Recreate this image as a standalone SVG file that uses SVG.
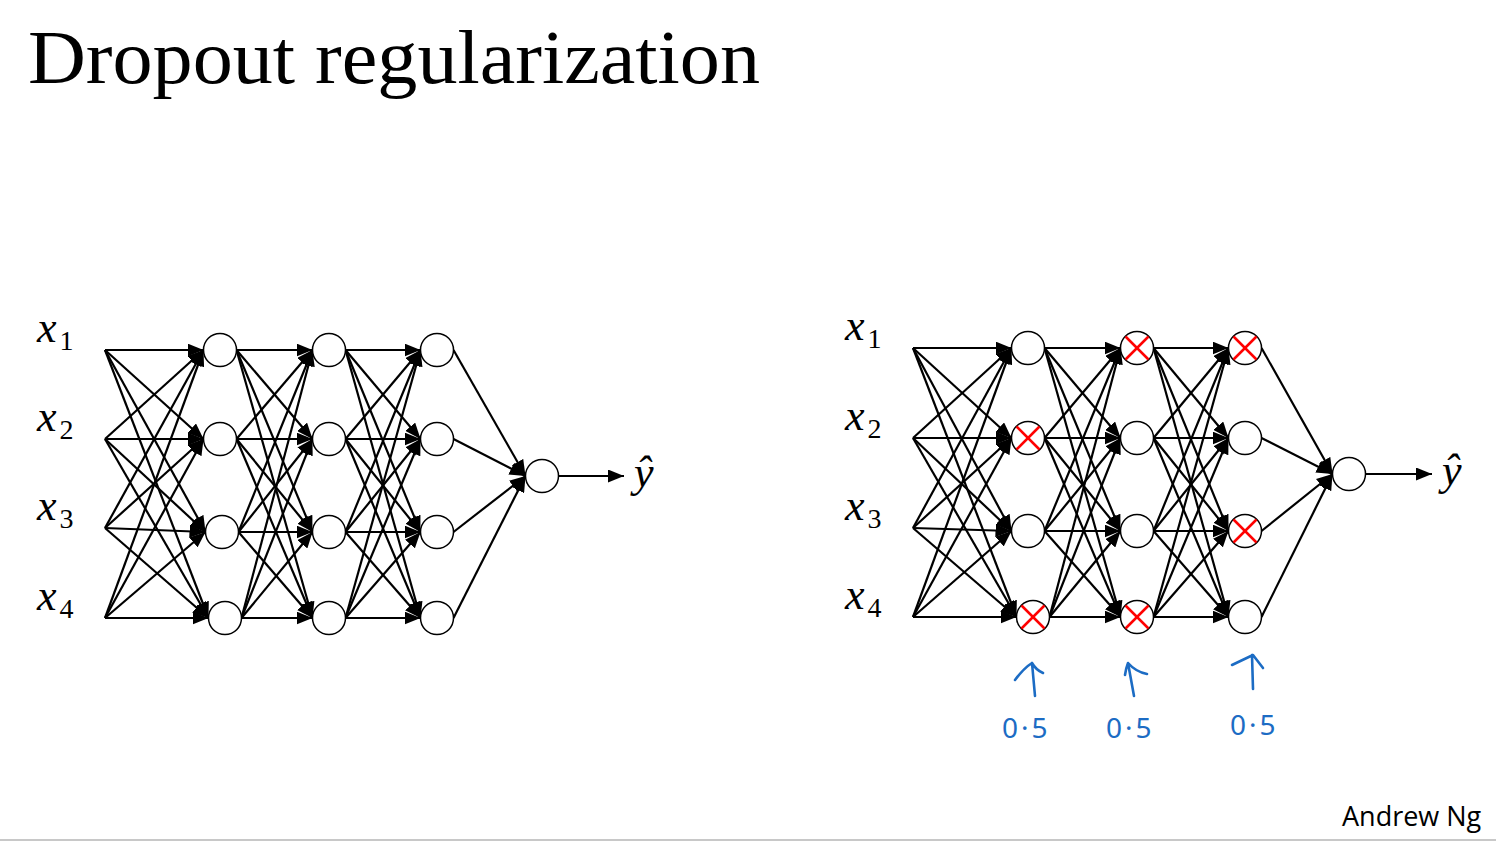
<svg xmlns="http://www.w3.org/2000/svg" width="1496" height="841" viewBox="0 0 1496 841">
<defs>
<marker id="ah" markerUnits="userSpaceOnUse" markerWidth="16" markerHeight="13" viewBox="0 0 16 13" refX="16" refY="6.5" orient="auto">
<path d="M0,0 L16,6.5 L0,13 z" fill="#000"/>
</marker>
<style>
.e{stroke:#000;stroke-width:2.2;fill:none;marker-end:url(#ah)}
.n{fill:#fff;stroke:#000;stroke-width:1.5}
.x{stroke:#f00;stroke-width:2.5}
.lab{font-family:"Liberation Serif",serif;font-style:italic;font-size:44px;fill:#000}
.sub{font-style:normal;font-size:28px}
.hw{font-family:"Noto Sans","DejaVu Sans",sans-serif;font-size:28px;letter-spacing:3px;fill:#1c6cc4}
.hwl{stroke:#1c6cc4;stroke-width:2.6;fill:none;stroke-linecap:round;stroke-linejoin:round}
</style>
</defs>
<rect width="1496" height="841" fill="#fff"/>
<text x="28" y="83" font-family="Liberation Serif,serif" font-size="76" textLength="732" lengthAdjust="spacingAndGlyphs" fill="#000">Dropout regularization</text>

<g id="connectors-left">
<line class="e" x1="105" y1="350" x2="203.5" y2="350"/>
<line class="e" x1="105" y1="350" x2="203.5" y2="439"/>
<line class="e" x1="105" y1="350" x2="205.5" y2="532"/>
<line class="e" x1="105" y1="350" x2="208.5" y2="618"/>
<line class="e" x1="105" y1="439" x2="203.5" y2="350"/>
<line class="e" x1="105" y1="439" x2="203.5" y2="439"/>
<line class="e" x1="105" y1="439" x2="205.5" y2="532"/>
<line class="e" x1="105" y1="439" x2="208.5" y2="618"/>
<line class="e" x1="105" y1="528" x2="203.5" y2="350"/>
<line class="e" x1="105" y1="528" x2="203.5" y2="439"/>
<line class="e" x1="105" y1="528" x2="205.5" y2="532"/>
<line class="e" x1="105" y1="528" x2="208.5" y2="618"/>
<line class="e" x1="105" y1="618" x2="203.5" y2="350"/>
<line class="e" x1="105" y1="618" x2="203.5" y2="439"/>
<line class="e" x1="105" y1="618" x2="205.5" y2="532"/>
<line class="e" x1="105" y1="618" x2="208.5" y2="618"/>

<line class="e" x1="236.5" y1="350" x2="312.5" y2="350"/>
<line class="e" x1="236.5" y1="350" x2="312.5" y2="439"/>
<line class="e" x1="236.5" y1="350" x2="312.5" y2="532"/>
<line class="e" x1="236.5" y1="350" x2="312.5" y2="618"/>
<line class="e" x1="236.5" y1="439" x2="312.5" y2="350"/>
<line class="e" x1="236.5" y1="439" x2="312.5" y2="439"/>
<line class="e" x1="236.5" y1="439" x2="312.5" y2="532"/>
<line class="e" x1="236.5" y1="439" x2="312.5" y2="618"/>
<line class="e" x1="238.5" y1="532" x2="312.5" y2="350"/>
<line class="e" x1="238.5" y1="532" x2="312.5" y2="439"/>
<line class="e" x1="238.5" y1="532" x2="312.5" y2="532"/>
<line class="e" x1="238.5" y1="532" x2="312.5" y2="618"/>
<line class="e" x1="241.5" y1="618" x2="312.5" y2="350"/>
<line class="e" x1="241.5" y1="618" x2="312.5" y2="439"/>
<line class="e" x1="241.5" y1="618" x2="312.5" y2="532"/>
<line class="e" x1="241.5" y1="618" x2="312.5" y2="618"/>

<line class="e" x1="345.5" y1="350" x2="420.5" y2="350"/>
<line class="e" x1="345.5" y1="350" x2="420.5" y2="439"/>
<line class="e" x1="345.5" y1="350" x2="420.5" y2="532"/>
<line class="e" x1="345.5" y1="350" x2="420.5" y2="618"/>
<line class="e" x1="345.5" y1="439" x2="420.5" y2="350"/>
<line class="e" x1="345.5" y1="439" x2="420.5" y2="439"/>
<line class="e" x1="345.5" y1="439" x2="420.5" y2="532"/>
<line class="e" x1="345.5" y1="439" x2="420.5" y2="618"/>
<line class="e" x1="345.5" y1="532" x2="420.5" y2="350"/>
<line class="e" x1="345.5" y1="532" x2="420.5" y2="439"/>
<line class="e" x1="345.5" y1="532" x2="420.5" y2="532"/>
<line class="e" x1="345.5" y1="532" x2="420.5" y2="618"/>
<line class="e" x1="345.5" y1="618" x2="420.5" y2="350"/>
<line class="e" x1="345.5" y1="618" x2="420.5" y2="439"/>
<line class="e" x1="345.5" y1="618" x2="420.5" y2="532"/>
<line class="e" x1="345.5" y1="618" x2="420.5" y2="618"/>

<line class="e" x1="453.5" y1="350" x2="525.5" y2="476"/>
<line class="e" x1="453.5" y1="439" x2="525.5" y2="476"/>
<line class="e" x1="453.5" y1="532" x2="525.5" y2="476"/>
<line class="e" x1="453.5" y1="618" x2="525.5" y2="476"/>
<line class="e" x1="558.5" y1="476" x2="624" y2="476"/>
</g>

<g id="connectors-right">
<line class="e" x1="913" y1="348" x2="1011.5" y2="348"/>
<line class="e" x1="913" y1="348" x2="1011.5" y2="438"/>
<line class="e" x1="913" y1="348" x2="1011.5" y2="531"/>
<line class="e" x1="913" y1="348" x2="1016.5" y2="617"/>
<line class="e" x1="913" y1="438" x2="1011.5" y2="348"/>
<line class="e" x1="913" y1="438" x2="1011.5" y2="438"/>
<line class="e" x1="913" y1="438" x2="1011.5" y2="531"/>
<line class="e" x1="913" y1="438" x2="1016.5" y2="617"/>
<line class="e" x1="913" y1="528" x2="1011.5" y2="348"/>
<line class="e" x1="913" y1="528" x2="1011.5" y2="438"/>
<line class="e" x1="913" y1="528" x2="1011.5" y2="531"/>
<line class="e" x1="913" y1="528" x2="1016.5" y2="617"/>
<line class="e" x1="913" y1="617" x2="1011.5" y2="348"/>
<line class="e" x1="913" y1="617" x2="1011.5" y2="438"/>
<line class="e" x1="913" y1="617" x2="1011.5" y2="531"/>
<line class="e" x1="913" y1="617" x2="1016.5" y2="617"/>

<line class="e" x1="1044.5" y1="348" x2="1120.5" y2="348"/>
<line class="e" x1="1044.5" y1="348" x2="1120.5" y2="438"/>
<line class="e" x1="1044.5" y1="348" x2="1120.5" y2="531"/>
<line class="e" x1="1044.5" y1="348" x2="1120.5" y2="617"/>
<line class="e" x1="1044.5" y1="438" x2="1120.5" y2="348"/>
<line class="e" x1="1044.5" y1="438" x2="1120.5" y2="438"/>
<line class="e" x1="1044.5" y1="438" x2="1120.5" y2="531"/>
<line class="e" x1="1044.5" y1="438" x2="1120.5" y2="617"/>
<line class="e" x1="1044.5" y1="531" x2="1120.5" y2="348"/>
<line class="e" x1="1044.5" y1="531" x2="1120.5" y2="438"/>
<line class="e" x1="1044.5" y1="531" x2="1120.5" y2="531"/>
<line class="e" x1="1044.5" y1="531" x2="1120.5" y2="617"/>
<line class="e" x1="1049.5" y1="617" x2="1120.5" y2="348"/>
<line class="e" x1="1049.5" y1="617" x2="1120.5" y2="438"/>
<line class="e" x1="1049.5" y1="617" x2="1120.5" y2="531"/>
<line class="e" x1="1049.5" y1="617" x2="1120.5" y2="617"/>

<line class="e" x1="1153.5" y1="348" x2="1228.5" y2="348"/>
<line class="e" x1="1153.5" y1="348" x2="1228.5" y2="438"/>
<line class="e" x1="1153.5" y1="348" x2="1228.5" y2="531"/>
<line class="e" x1="1153.5" y1="348" x2="1228.5" y2="617"/>
<line class="e" x1="1153.5" y1="438" x2="1228.5" y2="348"/>
<line class="e" x1="1153.5" y1="438" x2="1228.5" y2="438"/>
<line class="e" x1="1153.5" y1="438" x2="1228.5" y2="531"/>
<line class="e" x1="1153.5" y1="438" x2="1228.5" y2="617"/>
<line class="e" x1="1153.5" y1="531" x2="1228.5" y2="348"/>
<line class="e" x1="1153.5" y1="531" x2="1228.5" y2="438"/>
<line class="e" x1="1153.5" y1="531" x2="1228.5" y2="531"/>
<line class="e" x1="1153.5" y1="531" x2="1228.5" y2="617"/>
<line class="e" x1="1153.5" y1="617" x2="1228.5" y2="348"/>
<line class="e" x1="1153.5" y1="617" x2="1228.5" y2="438"/>
<line class="e" x1="1153.5" y1="617" x2="1228.5" y2="531"/>
<line class="e" x1="1153.5" y1="617" x2="1228.5" y2="617"/>

<line class="e" x1="1261.5" y1="348" x2="1332.5" y2="474"/>
<line class="e" x1="1261.5" y1="438" x2="1332.5" y2="474"/>
<line class="e" x1="1261.5" y1="531" x2="1332.5" y2="474"/>
<line class="e" x1="1261.5" y1="617" x2="1332.5" y2="474"/>
<line class="e" x1="1365.5" y1="474" x2="1432" y2="474"/>
</g>

<g id="left-inputs">
<text class="lab" x="37" y="342">x<tspan class="sub" dx="3" dy="8">1</tspan></text>
<text class="lab" x="37" y="431">x<tspan class="sub" dx="3" dy="8">2</tspan></text>
<text class="lab" x="37" y="520">x<tspan class="sub" dx="3" dy="8">3</tspan></text>
<text class="lab" x="37" y="610">x<tspan class="sub" dx="3" dy="8">4</tspan></text>
</g>
<g id="left-l1">
<circle class="n" cx="220" cy="350" r="16.5"/>
<circle class="n" cx="220" cy="439" r="16.5"/>
<circle class="n" cx="222" cy="532" r="16.5"/>
<circle class="n" cx="225" cy="618" r="16.5"/>
</g>
<g id="left-l2">
<circle class="n" cx="329" cy="350" r="16.5"/>
<circle class="n" cx="329" cy="439" r="16.5"/>
<circle class="n" cx="329" cy="532" r="16.5"/>
<circle class="n" cx="329" cy="618" r="16.5"/>
</g>
<g id="left-l3">
<circle class="n" cx="437" cy="350" r="16.5"/>
<circle class="n" cx="437" cy="439" r="16.5"/>
<circle class="n" cx="437" cy="532" r="16.5"/>
<circle class="n" cx="437" cy="618" r="16.5"/>
</g>
<g id="left-out">
<circle class="n" cx="542" cy="476" r="16.5"/>
<text class="lab" x="634" y="487">ŷ</text>
</g>

<g id="right-inputs">
<text class="lab" x="845" y="340">x<tspan class="sub" dx="3" dy="8">1</tspan></text>
<text class="lab" x="845" y="430">x<tspan class="sub" dx="3" dy="8">2</tspan></text>
<text class="lab" x="845" y="520">x<tspan class="sub" dx="3" dy="8">3</tspan></text>
<text class="lab" x="845" y="609">x<tspan class="sub" dx="3" dy="8">4</tspan></text>
</g>
<g id="right-l1">
<circle class="n" cx="1028" cy="348" r="16.5"/>
<circle class="n" cx="1028" cy="438" r="16.5"/>
<line class="x" x1="1016.5" y1="426.5" x2="1039.5" y2="449.5"/><line class="x" x1="1039.5" y1="426.5" x2="1016.5" y2="449.5"/>
<circle class="n" cx="1028" cy="531" r="16.5"/>
<circle class="n" cx="1033" cy="617" r="16.5"/>
<line class="x" x1="1021.5" y1="605.5" x2="1044.5" y2="628.5"/><line class="x" x1="1044.5" y1="605.5" x2="1021.5" y2="628.5"/>
</g>
<g id="right-l2">
<circle class="n" cx="1137" cy="348" r="16.5"/>
<line class="x" x1="1125.5" y1="336.5" x2="1148.5" y2="359.5"/><line class="x" x1="1148.5" y1="336.5" x2="1125.5" y2="359.5"/>
<circle class="n" cx="1137" cy="438" r="16.5"/>
<circle class="n" cx="1137" cy="531" r="16.5"/>
<circle class="n" cx="1137" cy="617" r="16.5"/>
<line class="x" x1="1125.5" y1="605.5" x2="1148.5" y2="628.5"/><line class="x" x1="1148.5" y1="605.5" x2="1125.5" y2="628.5"/>
</g>
<g id="right-l3">
<circle class="n" cx="1245" cy="348" r="16.5"/>
<line class="x" x1="1233.5" y1="336.5" x2="1256.5" y2="359.5"/><line class="x" x1="1256.5" y1="336.5" x2="1233.5" y2="359.5"/>
<circle class="n" cx="1245" cy="438" r="16.5"/>
<circle class="n" cx="1245" cy="531" r="16.5"/>
<line class="x" x1="1233.5" y1="519.5" x2="1256.5" y2="542.5"/><line class="x" x1="1256.5" y1="519.5" x2="1233.5" y2="542.5"/>
<circle class="n" cx="1245" cy="617" r="16.5"/>
</g>
<g id="right-out">
<circle class="n" cx="1349" cy="474" r="16.5"/>
<text class="lab" x="1442" y="485">ŷ</text>
</g>

<g id="annotations">
<path class="hwl" d="M1035,696 L1032,663 M1015,680 Q1024,668 1032,663 Q1036,670 1043,673"/>
<path class="hwl" d="M1134,696 L1128,663 M1125,675 Q1126,668 1128,663 Q1136,672 1147,674"/>
<path class="hwl" d="M1253,689 L1252,655 M1232,665 L1253,655 L1263,668"/>
<text class="hw" x="1002" y="738">0·5</text>
<text class="hw" x="1106" y="738">0·5</text>
<text class="hw" x="1230" y="735">0·5</text>
</g>

<text x="1342" y="826" font-family="Open Sans,sans-serif" font-size="27" fill="#000">Andrew Ng</text>
<rect x="0" y="839" width="1496" height="2" fill="#c8c8c8"/>
</svg>
